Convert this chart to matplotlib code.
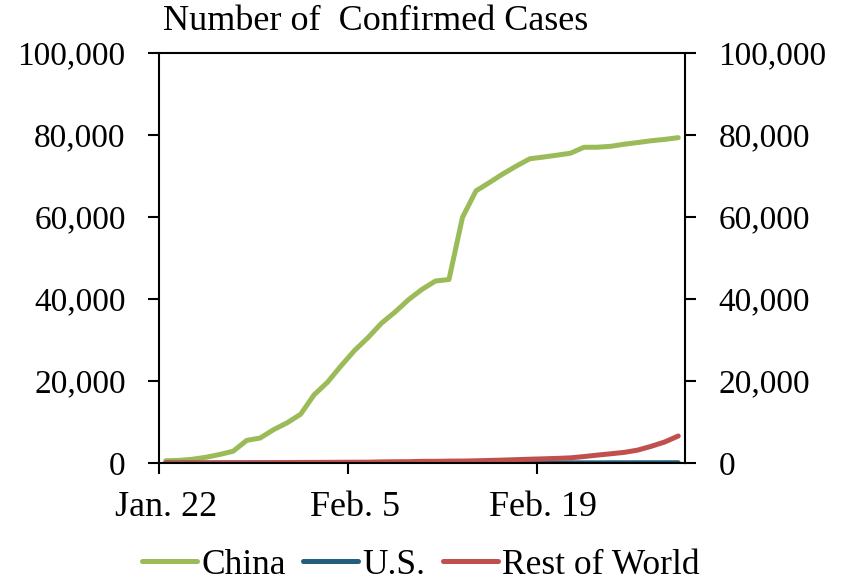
import numpy as np
import matplotlib
matplotlib.use("Agg")
import matplotlib.pyplot as plt
from matplotlib.ticker import FuncFormatter

plt.rcParams['font.family'] = ['Liberation Serif', 'DejaVu Serif']

# daily cumulative confirmed cases, Jan. 22 .. Feb. 29
china = [548, 643, 920, 1406, 2075, 2877, 5509, 6087, 8141, 9802,
         11891, 16630, 19716, 23707, 27440, 30587, 34110, 36814, 39829, 42354,
         44386, 44759, 59895, 66358, 68413, 70513, 72434, 74211, 74619, 75077,
         75550, 77001, 77022, 77241, 77754, 78166, 78600, 78928, 79356]
us = [1, 1, 2, 2, 5, 5, 5, 5, 5, 7,
      8, 8, 11, 11, 11, 12, 12, 12, 12, 12,
      13, 13, 14, 15, 15, 15, 15, 15, 15, 15,
      35, 35, 35, 53, 53, 59, 60, 62, 68]
row = [6, 10, 19, 26, 38, 45, 64, 74, 88, 118,
       139, 149, 160, 180, 192, 203, 273, 303, 319, 403,
       412, 457, 472, 536, 624, 707, 821, 926, 1018, 1120,
       1256, 1566, 1925, 2252, 2592, 3151, 4075, 5132, 6589]
labels = ['China', 'U.S.', 'Rest of World']
colors = ['#9BBB59', '#215F7B', '#C0504D']
date_labels = ['Jan. 22', 'Feb. 5', 'Feb. 19']
date_idx = [0, 14, 28]

x = np.arange(len(china))

fig = plt.figure(figsize=(8.48, 5.84), dpi=100)
ax = fig.add_axes([159/848, 1 - 463/584, (685-159)/848, (463-53)/584])

for y, lab, c in zip([china, us, row], labels, colors):
    ax.plot(x, y, color=c, lw=3.6, label=lab, solid_capstyle='round')

ax.set_xlim(-0.5, len(china) - 0.5)
ax.set_ylim(0, 100000)
ax.set_yticks(np.arange(0, 100001, 20000))
ax.yaxis.set_major_formatter(FuncFormatter(lambda v, p: f'{int(v):,}'))

# tick marks sit between days, labels sit on the day
ax.set_xticks([-0.5, 13.5, 27.5])
ax.set_xticklabels([])
ax.set_xticks(date_idx, minor=True)
ax.set_xticklabels(date_labels, minor=True)

ax.tick_params(axis='y', which='major', direction='out', length=8, width=1.5,
               labelsize=24, pad=16, left=True, right=True, labelright=True)
ax.tick_params(axis='x', which='major', direction='out', length=8, width=1.5)
ax.tick_params(axis='x', which='minor', length=0, labelsize=26, pad=20)

for s in ax.spines.values():
    s.set_linewidth(1.5)
    s.set_color('black')

fig.text(376/848, 1 - 22/584, 'Number of  Confirmed Cases', ha='center', va='center',
         fontsize=26)

fig.legend(loc='center', bbox_to_anchor=(421/848, 1 - 565/584), ncol=3, frameon=False,
           fontsize=25.5, handlelength=1.55, handletextpad=0.12, columnspacing=0.5,
           borderpad=0)

fig.savefig('out.png', dpi=100)
